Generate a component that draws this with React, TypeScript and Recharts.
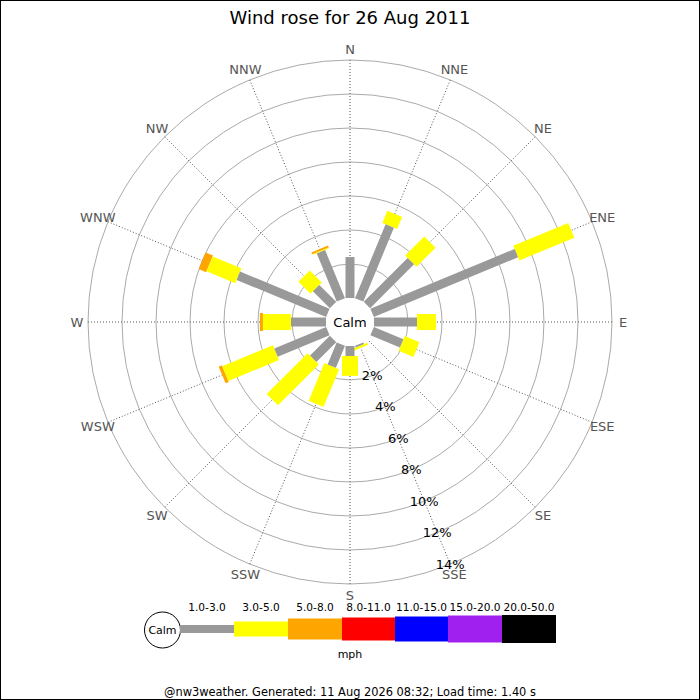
import { RadarChart, Radar, PolarGrid, PolarAngleAxis, PolarRadiusAxis } from "recharts";

// percent of time from each direction, per speed band (mph)
const directions = ["N", "NNE", "NE", "ENE", "E", "ESE", "SE", "SSE", "S", "SSW", "SW", "WSW", "W", "WNW", "NW", "NNW"];
const mph1to3 = [2.41, 4.7, 3.65, 9.18, 2.53, 1.88, 0, 0.1, 0.59, 1.4, 1.65, 3.3, 2.06, 5.7, 1.41, 3.06];
const mph3to5 = [0, 0.77, 1.59, 3.5, 1.12, 0.94, 0, 0.14, 1.17, 2.4, 3.4, 3.23, 1.65, 1.83, 1.0, 0.06];
const mph5to8 = [0, 0, 0, 0, 0, 0, 0, 0, 0, 0, 0, 0.2, 0.18, 0.47, 0, 0.12];

const percentTicks = [2, 4, 6, 8, 10, 12, 14];
const speedBands = ["1.0-3.0", "3.0-5.0", "5.0-8.0", "8.0-11.0", "11.0-15.0", "15.0-20.0", "20.0-50.0"];
const bandColors = ["#999999", "#ffff00", "#ffa500", "#ff0000", "#0000ff", "#a020f0", "#000000"];
const bandHeights = [8, 15, 21, 23, 25, 27, 28];

const FONT = "'DejaVu Sans', sans-serif";
const CX = 350;
const CY = 322;
const RADIUS_MIN = -1.41; // leaves room for the calm circle

const data = directions.map((dir, i) => {
  const g = mph1to3[i];
  const y = g + mph3to5[i];
  const o = y + mph5to8[i];
  return { dir, grayStart: 0, grayEnd: g, yellowStart: g, yellowEnd: y, orangeStart: y, orangeEnd: o };
});

const barShape = (startKey: string, endKey: string, color: string, width: number) => (props: any) => {
  const pts = props.points || [];
  return (
    <g>
      {pts.map((p: any, i: number) => {
        const start = p.payload[startKey];
        const end = p.payload[endKey];
        if (!(end > start)) return null;
        const cx = p.cx ?? CX;
        const cy = p.cy ?? CY;
        const dx = p.x - cx;
        const dy = p.y - cy;
        const len = Math.hypot(dx, dy);
        if (!len) return null;
        const k = (start - RADIUS_MIN) / (end - RADIUS_MIN);
        const x0 = cx + dx * k;
        const y0 = cy + dy * k;
        const nx = (-dy / len) * (width / 2);
        const ny = (dx / len) * (width / 2);
        return (
          <polygon
            key={i}
            points={`${x0 + nx},${y0 + ny} ${p.x + nx},${p.y + ny} ${p.x - nx},${p.y - ny} ${x0 - nx},${y0 - ny}`}
            fill={color}
          />
        );
      })}
    </g>
  );
};

const AngleTick = (props: any) => (
  <text x={props.x} y={props.y} textAnchor="middle" dominantBaseline="central" fontSize={13} fill="#555" fontFamily={FONT}>
    {props.payload.value}
  </text>
);

const RadiusTick = (props: any) => (
  <text x={props.x} y={props.y} textAnchor="middle" dominantBaseline="central" fontSize={13} fill="#000" fontFamily={FONT}>
    {props.payload.value}%
  </text>
);

const CalmCircle = () => (
  <g>
    <circle cx={CX} cy={CY} r={26} fill="#fff" />
    <text x={CX} y={CY} textAnchor="middle" dominantBaseline="central" fontSize={13} fill="#000" fontFamily={FONT}>
      Calm
    </text>
  </g>
);

export default function App() {
  const segX = [180, 234, 288, 342, 395, 448, 502, 556];
  return (
    <div style={{ position: "absolute", left: 0, top: 0, width: 700, height: 700, background: "#fff", fontFamily: FONT }}>
      <div style={{ position: "absolute", left: 0, top: 0 }}>
        <RadarChart
          width={700}
          height={700}
          data={data}
          cx={CX}
          cy={CY}
          outerRadius={262}
          startAngle={90}
          endAngle={-270}
          margin={{ top: 0, right: 0, bottom: 0, left: 0 }}
        >
          <PolarGrid gridType="circle" radialLines={false} stroke="#aaaaaa" />
          <PolarGrid gridType="circle" polarRadius={[]} stroke="#555" strokeDasharray="1 2" />
          <PolarAngleAxis dataKey="dir" axisLine={false} tickLine={false} tickSize={11} tick={AngleTick} />
          <Radar dataKey="orangeEnd" isAnimationActive={false} shape={barShape("orangeStart", "orangeEnd", "#ffa500", 18)} />
          <Radar dataKey="yellowEnd" isAnimationActive={false} shape={barShape("yellowStart", "yellowEnd", "#ffff00", 16)} />
          <Radar dataKey="grayEnd" isAnimationActive={false} shape={barShape("grayStart", "grayEnd", "#999999", 9)} />
          <CalmCircle />
          <PolarRadiusAxis
            type="number"
            domain={[RADIUS_MIN, 14]}
            ticks={percentTicks}
            angle={-67.5}
            axisLine={false}
            tickLine={false}
            tick={RadiusTick}
          />
        </RadarChart>
      </div>
      <svg width={700} height={700} style={{ position: "absolute", left: 0, top: 0, pointerEvents: "none" }}>
        <text x={350} y={17} textAnchor="middle" dominantBaseline="central" fontSize={18} fill="#000" fontFamily={FONT}>
          Wind rose for 26 Aug 2011
        </text>
        <circle cx={162.5} cy={630} r={18} fill="#fff" stroke="#000" />
        <text x={162.5} y={630} textAnchor="middle" dominantBaseline="central" fontSize={11} fill="#000" fontFamily={FONT}>
          Calm
        </text>
        {speedBands.map((band, i) => (
          <g key={band}>
            <rect x={segX[i]} y={629 - bandHeights[i] / 2} width={segX[i + 1] - segX[i]} height={bandHeights[i]} fill={bandColors[i]} />
            <text x={(segX[i] + segX[i + 1]) / 2} y={607} textAnchor="middle" dominantBaseline="central" fontSize={10.6} fill="#000" fontFamily={FONT}>
              {band}
            </text>
          </g>
        ))}
        <text x={350} y={654} textAnchor="middle" dominantBaseline="central" fontSize={11} fill="#000" fontFamily={FONT}>
          mph
        </text>
        <text x={350} y={692} textAnchor="middle" dominantBaseline="central" fontSize={11.4} fill="#000" fontFamily={FONT}>
          @nw3weather. Generated: 11 Aug 2026 08:32; Load time: 1.40 s
        </text>
        <rect x={0.5} y={0.5} width={699} height={699} fill="none" stroke="#000" />
      </svg>
    </div>
  );
}
